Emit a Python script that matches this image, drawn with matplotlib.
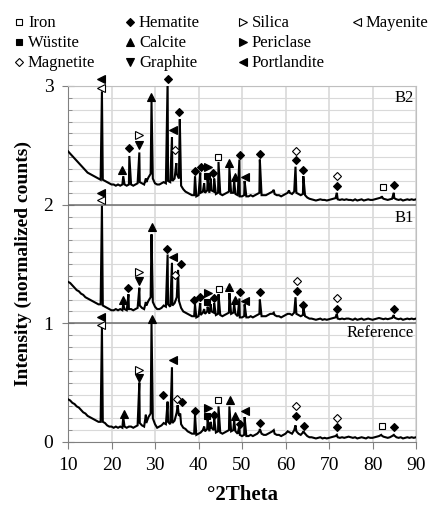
import numpy as np
import matplotlib
matplotlib.use("Agg")
import matplotlib.pyplot as plt

plt.rcParams.update({
    "font.family": "serif",
    "font.serif": ["Liberation Serif", "DejaVu Serif"],
})

# background of each pattern, read every 0.5 deg from 10 to 90 deg 2theta
STEP_START, STEP = 10.0, 0.5

BG_REF = [
    0.36, 0.35, 0.33, 0.32, 0.30, 0.29, 0.27, 0.25, 0.24, 0.22,
    0.21, 0.20, 0.19, 0.18, 0.17, 0.17, 0.17, 0.16, 0.14, 0.13,
    0.13, 0.12, 0.13, 0.12, 0.13, 0.12, 0.13, 0.12, 0.13, 0.13,
    0.12, 0.13, 0.14, 0.16, 0.14, 0.13, 0.16, 0.21, 0.24, 0.20,
    0.15, 0.12, 0.13, 0.14, 0.16, 0.15, 0.17, 0.15, 0.16, 0.18,
    0.25, 0.22, 0.15, 0.12, 0.11, 0.09, 0.08, 0.07, 0.07, 0.06,
    0.07, 0.08, 0.10, 0.09, 0.11, 0.09, 0.12, 0.10, 0.08, 0.09,
    0.08, 0.07, 0.08, 0.09, 0.10, 0.09, 0.10, 0.09, 0.07, 0.06,
    0.05, 0.06, 0.05, 0.05, 0.06, 0.05, 0.06, 0.07, 0.09, 0.07,
    0.06, 0.06, 0.07, 0.08, 0.09, 0.07, 0.06, 0.06, 0.05, 0.06,
    0.07, 0.09, 0.08, 0.07, 0.10, 0.09, 0.07, 0.06, 0.08, 0.07,
    0.05, 0.04, 0.04, 0.035, 0.03, 0.035, 0.04, 0.03, 0.035, 0.03,
    0.035, 0.04, 0.045, 0.05, 0.04, 0.035, 0.04, 0.035, 0.04, 0.045,
    0.04, 0.035, 0.04, 0.03, 0.035, 0.04, 0.035, 0.03, 0.04, 0.035,
    0.035, 0.04, 0.045, 0.05, 0.06, 0.045, 0.04, 0.035, 0.04, 0.05,
    0.055, 0.04, 0.035, 0.04, 0.03, 0.035, 0.04, 0.035, 0.04, 0.035,
    0.04,
]

BG_B1 = [
    1.35, 1.34, 1.32, 1.30, 1.28, 1.27, 1.25, 1.24, 1.22, 1.21,
    1.20, 1.19, 1.18, 1.17, 1.16, 1.16, 1.15, 1.14, 1.13, 1.12,
    1.11, 1.11, 1.12, 1.11, 1.12, 1.11, 1.12, 1.11, 1.12, 1.12,
    1.11, 1.12, 1.13, 1.15, 1.13, 1.12, 1.15, 1.19, 1.22, 1.18,
    1.14, 1.12, 1.12, 1.13, 1.15, 1.14, 1.16, 1.14, 1.15, 1.17,
    1.22, 1.19, 1.13, 1.10, 1.09, 1.08, 1.07, 1.06, 1.06, 1.05,
    1.06, 1.07, 1.09, 1.08, 1.10, 1.08, 1.10, 1.09, 1.07, 1.08,
    1.07, 1.06, 1.07, 1.08, 1.09, 1.08, 1.09, 1.08, 1.06, 1.05,
    1.05, 1.06, 1.05, 1.05, 1.06, 1.05, 1.06, 1.07, 1.08, 1.06,
    1.06, 1.06, 1.07, 1.08, 1.08, 1.07, 1.06, 1.06, 1.05, 1.06,
    1.07, 1.08, 1.08, 1.07, 1.09, 1.08, 1.07, 1.06, 1.07, 1.06,
    1.05, 1.04, 1.04, 1.035, 1.03, 1.035, 1.04, 1.03, 1.035, 1.03,
    1.035, 1.04, 1.045, 1.05, 1.04, 1.035, 1.04, 1.035, 1.04, 1.04,
    1.035, 1.03, 1.04, 1.03, 1.035, 1.04, 1.03, 1.035, 1.04, 1.035,
    1.03, 1.035, 1.04, 1.045, 1.04, 1.035, 1.04, 1.035, 1.04, 1.045,
    1.05, 1.04, 1.035, 1.04, 1.03, 1.035, 1.04, 1.035, 1.04, 1.035,
    1.04,
]

BG_B2 = [
    2.45, 2.43, 2.41, 2.39, 2.37, 2.35, 2.33, 2.31, 2.29, 2.27,
    2.26, 2.25, 2.24, 2.23, 2.22, 2.21, 2.21, 2.20, 2.19, 2.18,
    2.17, 2.17, 2.16, 2.17, 2.16, 2.17, 2.17, 2.16, 2.17, 2.17,
    2.16, 2.17, 2.18, 2.19, 2.18, 2.17, 2.19, 2.23, 2.26, 2.22,
    2.18, 2.17, 2.17, 2.18, 2.19, 2.18, 2.20, 2.19, 2.20, 2.22,
    2.26, 2.22, 2.16, 2.13, 2.11, 2.10, 2.09, 2.08, 2.08, 2.07,
    2.08, 2.10, 2.11, 2.10, 2.12, 2.10, 2.12, 2.11, 2.09, 2.10,
    2.09, 2.08, 2.09, 2.10, 2.11, 2.10, 2.10, 2.09, 2.08, 2.07,
    2.07, 2.08, 2.07, 2.07, 2.08, 2.07, 2.08, 2.09, 2.10, 2.08,
    2.08, 2.08, 2.09, 2.10, 2.11, 2.09, 2.08, 2.08, 2.07, 2.08,
    2.09, 2.10, 2.10, 2.09, 2.11, 2.10, 2.09, 2.08, 2.09, 2.08,
    2.06, 2.05, 2.045, 2.04, 2.035, 2.04, 2.045, 2.04, 2.04, 2.035,
    2.04, 2.045, 2.05, 2.055, 2.045, 2.04, 2.045, 2.04, 2.045, 2.04,
    2.04, 2.035, 2.045, 2.035, 2.04, 2.045, 2.035, 2.04, 2.045, 2.04,
    2.04, 2.045, 2.05, 2.055, 2.06, 2.05, 2.045, 2.04, 2.045, 2.05,
    2.055, 2.045, 2.04, 2.045, 2.035, 2.04, 2.045, 2.04, 2.045, 2.04,
    2.045,
]

# sharp reflections: (2theta, peak top)
PEAKS_REF = [
    (17.8, 0.97), (22.7, 0.21), (26.4, 0.50), (27.9, 0.23), (29.2, 1.00),
    (32.9, 0.34), (33.9, 0.63), (35.2, 0.31), (35.8, 0.24), (39.2, 0.23),
    (41.3, 0.13), (42.1, 0.19), (42.8, 0.17), (43.6, 0.20), (44.6, 0.30),
    (47.1, 0.30), (48.2, 0.18), (49.4, 0.14), (50.6, 0.21), (54.1, 0.11),
    (57.3, 0.10), (62.3, 0.14), (64.1, 0.09), (71.8, 0.06), (82.1, 0.055),
    (84.9, 0.06),
]

PEAKS_B1 = [
    (17.8, 1.99), (22.7, 1.16), (23.9, 1.245), (26.4, 1.30), (27.9, 1.18),
    (29.2, 1.75), (32.9, 1.58), (33.9, 1.51), (35.3, 1.45), (39.2, 1.16),
    (40.4, 1.17), (41.3, 1.12), (42.1, 1.14), (42.8, 1.16), (43.6, 1.17),
    (44.6, 1.245), (47.1, 1.255), (48.2, 1.16), (49.4, 1.21), (50.6, 1.16),
    (54.1, 1.20), (57.3, 1.09), (62.3, 1.22), (64.1, 1.13), (71.8, 1.08),
    (84.9, 1.07),
]

PEAKS_B2 = [
    (17.8, 2.955), (22.7, 2.24), (24.1, 2.41), (26.4, 2.44), (27.9, 2.22),
    (29.2, 2.87), (32.9, 3.05), (33.9, 2.57), (34.9, 2.35), (35.7, 2.72),
    (39.2, 2.24), (40.4, 2.27), (41.3, 2.18), (42.1, 2.21), (42.8, 2.22),
    (43.6, 2.22), (44.6, 2.36), (47.1, 2.31), (48.2, 2.20), (49.4, 2.38),
    (50.6, 2.20), (54.1, 2.38), (57.3, 2.125), (60.8, 2.12), (62.3, 2.32),
    (64.1, 2.24), (71.8, 2.10), (82.1, 2.07), (84.9, 2.10),
]

# phase markers: (phase, 2theta, height)
MARKS_REF = [
    ("Portlandite", 17.7, 1.05), ("Mayenite", 17.7, 0.985), ("Calcite", 22.9, 0.236),
    ("Silica", 26.3, 0.61), ("Graphite", 26.3, 0.54), ("Calcite", 29.2, 1.04),
    ("Hematite", 31.9, 0.40), ("Portlandite", 34.1, 0.69), ("Magnetite", 35.0, 0.36),
    ("Hematite", 36.3, 0.34), ("Hematite", 39.2, 0.26), ("Periclase", 42.1, 0.29),
    ("Wüstite", 41.95, 0.22), ("Hematite", 43.5, 0.23), ("Iron", 44.55, 0.35),
    ("Calcite", 47.2, 0.35), ("Calcite", 48.4, 0.22), ("Hematite", 49.5, 0.15),
    ("Portlandite", 50.8, 0.26), ("Hematite", 54.1, 0.16), ("Magnetite", 62.3, 0.30),
    ("Hematite", 62.3, 0.22), ("Hematite", 64.3, 0.135), ("Magnetite", 71.8, 0.20),
    ("Hematite", 71.8, 0.125), ("Iron", 82.1, 0.135), ("Hematite", 85.0, 0.125),
]

MARKS_B1 = [
    ("Portlandite", 17.7, 2.10), ("Mayenite", 17.7, 2.04), ("Calcite", 22.6, 1.20),
    ("Hematite", 23.9, 1.30), ("Silica", 26.3, 1.43), ("Graphite", 26.3, 1.36),
    ("Calcite", 29.2, 1.81), ("Hematite", 32.8, 1.63), ("Portlandite", 34.2, 1.555),
    ("Magnetite", 34.7, 1.41), ("Hematite", 36.0, 1.50), ("Hematite", 39.0, 1.20),
    ("Hematite", 40.4, 1.22), ("Periclase", 42.1, 1.255), ("Wüstite", 42.0, 1.18),
    ("Hematite", 43.5, 1.21), ("Iron", 44.7, 1.29), ("Calcite", 47.1, 1.31),
    ("Calcite", 48.4, 1.20), ("Hematite", 49.5, 1.26), ("Portlandite", 50.8, 1.19),
    ("Hematite", 54.1, 1.26), ("Magnetite", 62.6, 1.36), ("Hematite", 62.6, 1.27),
    ("Hematite", 64.0, 1.155), ("Magnetite", 71.9, 1.21), ("Hematite", 71.9, 1.12),
    ("Hematite", 85.0, 1.12),
]

MARKS_B2 = [
    ("Portlandite", 17.7, 3.06), ("Mayenite", 17.7, 2.985), ("Calcite", 22.3, 2.29),
    ("Hematite", 24.0, 2.48), ("Silica", 26.3, 2.59), ("Graphite", 26.3, 2.50),
    ("Calcite", 29.15, 2.91), ("Hematite", 32.9, 3.06), ("Portlandite", 34.1, 2.63),
    ("Magnetite", 34.7, 2.46), ("Hematite", 35.5, 2.78), ("Hematite", 39.2, 2.28),
    ("Hematite", 40.5, 2.315), ("Periclase", 42.1, 2.32), ("Wüstite", 42.0, 2.245),
    ("Hematite", 43.4, 2.27), ("Iron", 44.55, 2.40), ("Calcite", 47.1, 2.35),
    ("Calcite", 48.4, 2.235), ("Hematite", 49.5, 2.42), ("Portlandite", 50.8, 2.235),
    ("Hematite", 54.1, 2.43), ("Magnetite", 62.3, 2.455), ("Hematite", 62.3, 2.375),
    ("Hematite", 64.0, 2.29), ("Magnetite", 71.8, 2.24), ("Hematite", 71.8, 2.155),
    ("Iron", 82.3, 2.145), ("Hematite", 84.9, 2.165),
]

SAMPLE_LABELS = ["Reference", "B1", "B2"]
LABEL_Y = [0.92, 1.89, 2.90]

# phase -> (marker, filled, size)
STYLE = {
    "Iron": ("s", False, 4.8),
    "Wüstite": ("s", True, 4.8),
    "Magnetite": ("D", False, 4.3),
    "Hematite": ("D", True, 4.3),
    "Calcite": ("^", True, 5.3),
    "Graphite": ("v", True, 5.3),
    "Silica": (">", False, 5.3),
    "Periclase": (">", True, 5.3),
    "Portlandite": ("<", True, 5.3),
    "Mayenite": ("<", False, 5.3),
}
LEGEND_COLS = [
    ["Iron", "Wüstite", "Magnetite"],
    ["Hematite", "Calcite", "Graphite"],
    ["Silica", "Periclase", "Portlandite"],
    ["Mayenite"],
]


def build_trace(bg, peaks):
    xs = list(STEP_START + STEP * np.arange(len(bg)))
    ys = list(bg)
    for pos, top in peaks:
        xs.append(pos)
        ys.append(top)
    order = np.argsort(xs, kind="stable")
    return np.array(xs)[order], np.array(ys)[order]


def draw_marker(ax, phase, x, y):
    m, filled, ms = STYLE[phase]
    ax.plot(x, y, marker=m, ms=ms, mec="black", mew=0.8,
            mfc="black" if filled else "white", ls="none",
            clip_on=False, zorder=6)


fig = plt.figure(figsize=(4.30, 5.09), dpi=100)
ax = fig.add_axes([68 / 430, 1 - 442 / 509, 348 / 430, 356 / 509])

for bg, peaks in [(BG_REF, PEAKS_REF), (BG_B1, PEAKS_B1), (BG_B2, PEAKS_B2)]:
    x, y = build_trace(bg, peaks)
    ax.plot(x, y, color="black", lw=1.5, zorder=4, solid_joinstyle="miter")

for marks in [MARKS_REF, MARKS_B1, MARKS_B2]:
    for phase, x, y in marks:
        draw_marker(ax, phase, x, y)

for lab, ly in zip(SAMPLE_LABELS, LABEL_Y):
    ax.text(89.6, ly, lab, ha="right", va="center", fontsize=12, zorder=7)

ax.set_xlim(10, 90)
ax.set_ylim(0, 3)
ax.set_xticks(np.arange(10, 91, 10))
ax.set_yticks([0, 1, 2, 3])
ax.set_yticks(np.arange(0, 3.01, 0.1), minor=True)
ax.grid(which="minor", axis="y", color="#d9d9d9", lw=0.8)
ax.grid(which="major", axis="y", color="#d9d9d9", lw=0.8)
ax.grid(which="major", axis="x", color="#d9d9d9", lw=1.2)
ax.set_axisbelow(True)
for level in (1, 2):
    ax.axhline(level, color="#6e6e6e", lw=1.1, zorder=3)

for side in ("left", "bottom"):
    ax.spines[side].set_color("#808080")
for side in ("top", "right"):
    ax.spines[side].set_color("#bfbfbf")

ax.tick_params(axis="y", which="major", direction="inout", length=9, color="#808080",
               labelsize=14, pad=6)
ax.tick_params(axis="y", which="minor", direction="in", length=3, color="#808080")
ax.tick_params(axis="x", which="major", direction="out", length=5, color="#808080",
               labelsize=14, pad=6)

ax.set_xlabel("°2Theta", fontsize=15, fontweight="bold", labelpad=8)
ax.set_ylabel("Intensity (normalized counts)", fontsize=14, fontweight="bold", labelpad=8)

# legend block above the plot, laid out in pixel units
leg = fig.add_axes([0, 0, 1, 1], zorder=10)
leg.set_xlim(0, 430)
leg.set_ylim(509, 0)
leg.axis("off")
col_x = [19, 130, 243, 357]
row_y = [22, 42, 62]
for cx, names in zip(col_x, LEGEND_COLS):
    for ry, name in zip(row_y, names):
        draw_marker(leg, name, cx, ry)
        leg.text(cx + 9, ry + 1, name, ha="left", va="center", fontsize=12)

fig.savefig("out.png", dpi=100)
